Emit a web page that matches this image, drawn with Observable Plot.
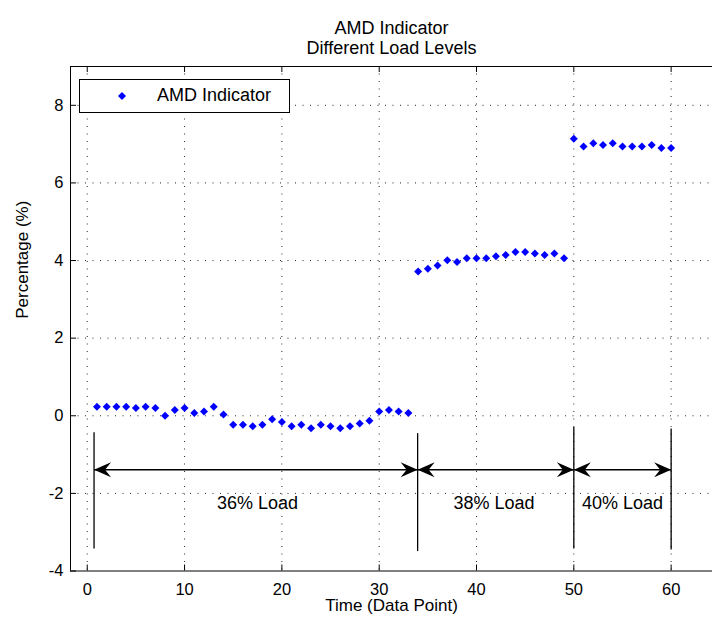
<!DOCTYPE html>
<html><head><meta charset="utf-8">
<script src="https://cdn.jsdelivr.net/npm/d3@7"></script>
<script src="https://cdn.jsdelivr.net/npm/@observablehq/plot@0.6"></script>
<style>
body{margin:0;background:#fff;}
#wrap{position:relative;width:712px;height:629px;overflow:hidden;}
#legend{position:absolute;left:79px;top:79px;width:209px;height:32px;border:1px solid #000;background:#fff;font:18px "Liberation Sans",Arial,sans-serif;color:#000;}
#legend svg{position:absolute;left:36px;top:10px;}
#legend span{position:absolute;left:77px;top:5px;white-space:nowrap;}
</style></head>
<body><div id="wrap"><div id="legend"><svg width="12" height="12"><path d="M6,2L10,6L6,10L2,6Z" fill="#0000ff"/></svg><span>AMD Indicator</span></div></div>
<script>
// ---- data ----
const load36 = [0.23,0.23,0.23,0.23,0.20,0.23,0.20,0.00,0.15,0.20,0.07,0.11,0.23,0.03,
  -0.23,-0.23,-0.27,-0.23,-0.09,-0.16,-0.27,-0.23,-0.32,-0.23,-0.27,-0.32,-0.27,-0.20,-0.13,0.11,0.15,0.11,0.07];
const load38 = [3.72,3.79,3.87,4.01,3.96,4.06,4.06,4.06,4.11,4.14,4.22,4.22,4.18,4.14,4.18,4.06];
const load40 = [7.14,6.94,7.02,6.98,7.02,6.94,6.94,6.94,6.98,6.90,6.90];
const segmentStart = [1, 34, 50];
const xTicks = [0,10,20,30,40,50,60];
const yTicks = [-4,-2,0,2,4,6,8];
const xDomain = [-1.72, 64.25];
const yDomain = [-4, 9];
// annotation: load boundaries, arrows, labels
const boundaries = [
  {x: 0.7, top: -0.44, bottom: -3.43},
  {x: 33.95, top: -0.46, bottom: -3.50},
  {x: 50, top: -0.30, bottom: -3.43},
  {x: 60, top: -0.34, bottom: -3.46}
];
const arrowY = -1.39;
const loadLabels = ["36% Load", "38% Load", "40% Load"];
const loadLabelX = [17.5, 41.8, 55];
const loadLabelY = -2.25;

// ---- build tables ----
const points = [];
[load36, load38, load40].forEach((arr, k) => arr.forEach((v, i) => points.push({x: segmentStart[k] + i, y: v})));
const segments = boundaries.slice(0, -1).map((b, i) => ({x1: b.x, x2: boundaries[i + 1].x}));
const labels = loadLabels.map((t, i) => ({t, x: loadLabelX[i], y: loadLabelY}));

const W = 712, H = 629, mL = 70, mR = 0, mT = 66, mB = 58.5;
const plotW = W - mL - mR, plotH = H - mT - mB;
const font = '"Liberation Sans", Arial, sans-serif';

const arrowRight = {draw(ctx) { ctx.moveTo(0, 0); ctx.lineTo(-17, -7.5); ctx.lineTo(-11, 0); ctx.lineTo(-17, 7.5); ctx.closePath(); }};
const arrowLeft = {draw(ctx) { ctx.moveTo(0, 0); ctx.lineTo(17, -7.5); ctx.lineTo(11, 0); ctx.lineTo(17, 7.5); ctx.closePath(); }};
const dotted = {stroke: "#000", strokeOpacity: 0.85, strokeWidth: 1, strokeDasharray: "1,6.5"};

const chart = Plot.plot({
  width: W, height: H,
  marginLeft: mL, marginRight: mR, marginTop: mT, marginBottom: mB,
  style: {fontSize: "16.5px", fontFamily: font, color: "#000", background: "#fff", overflow: "visible"},
  x: {domain: xDomain, ticks: xTicks, tickSize: 0, tickPadding: 12, label: null, tickFormat: d => String(d)},
  y: {domain: yDomain, ticks: yTicks, tickSize: 0, tickPadding: 7, label: null, tickFormat: d => String(d)},
  marks: [
    Plot.ruleX(xTicks, {x: d => d, ...dotted}),
    Plot.ruleY(yTicks.slice(1), {y: d => d, ...dotted}),
    Plot.ruleX([xDomain[0]], {x: d => d, stroke: "#000"}),
    Plot.ruleY([yDomain[0], yDomain[1]], {y: d => d, stroke: "#000"}),
    Plot.tickX(xTicks, {x: d => d, insetTop: plotH - 6, stroke: "#000"}),
    Plot.tickX(xTicks, {x: d => d, insetBottom: plotH - 6, stroke: "#000"}),
    Plot.tickY(yTicks, {y: d => d, insetRight: plotW - 6, stroke: "#000"}),
    Plot.ruleX(boundaries, {x: "x", y1: "top", y2: "bottom", stroke: "#000", strokeWidth: 1.3}),
    Plot.link(segments, {x1: "x1", x2: "x2", y1: () => arrowY, y2: () => arrowY, stroke: "#000", strokeWidth: 1.6}),
    Plot.dot(segments, {x: "x2", y: () => arrowY, symbol: arrowRight, fill: "#000", stroke: "none"}),
    Plot.dot(segments, {x: "x1", y: () => arrowY, symbol: arrowLeft, fill: "#000", stroke: "none"}),
    Plot.text(labels, {x: "x", y: "y", text: "t", fontSize: 18, fill: "#000"}),
    Plot.dot(points, {x: "x", y: "y", symbol: "diamond2", r: 3.6, fill: "#0000ff", stroke: "none"}),
    Plot.text(["AMD Indicator"], {frameAnchor: "top", dy: -45, text: d => d, fontSize: 18, fill: "#000"}),
    Plot.text(["Different Load Levels"], {frameAnchor: "top", dy: -25, text: d => d, fontSize: 18, fill: "#000"}),
    Plot.text(["Time (Data Point)"], {frameAnchor: "bottom", dy: 40, text: d => d, fontSize: 17, fill: "#000"}),
    Plot.text(["Percentage (%)"], {frameAnchor: "left", dx: -48, rotate: -90, text: d => d, fontSize: 17, fill: "#000"})
  ]
});
document.getElementById("wrap").prepend(chart);
</script>
</body></html>
